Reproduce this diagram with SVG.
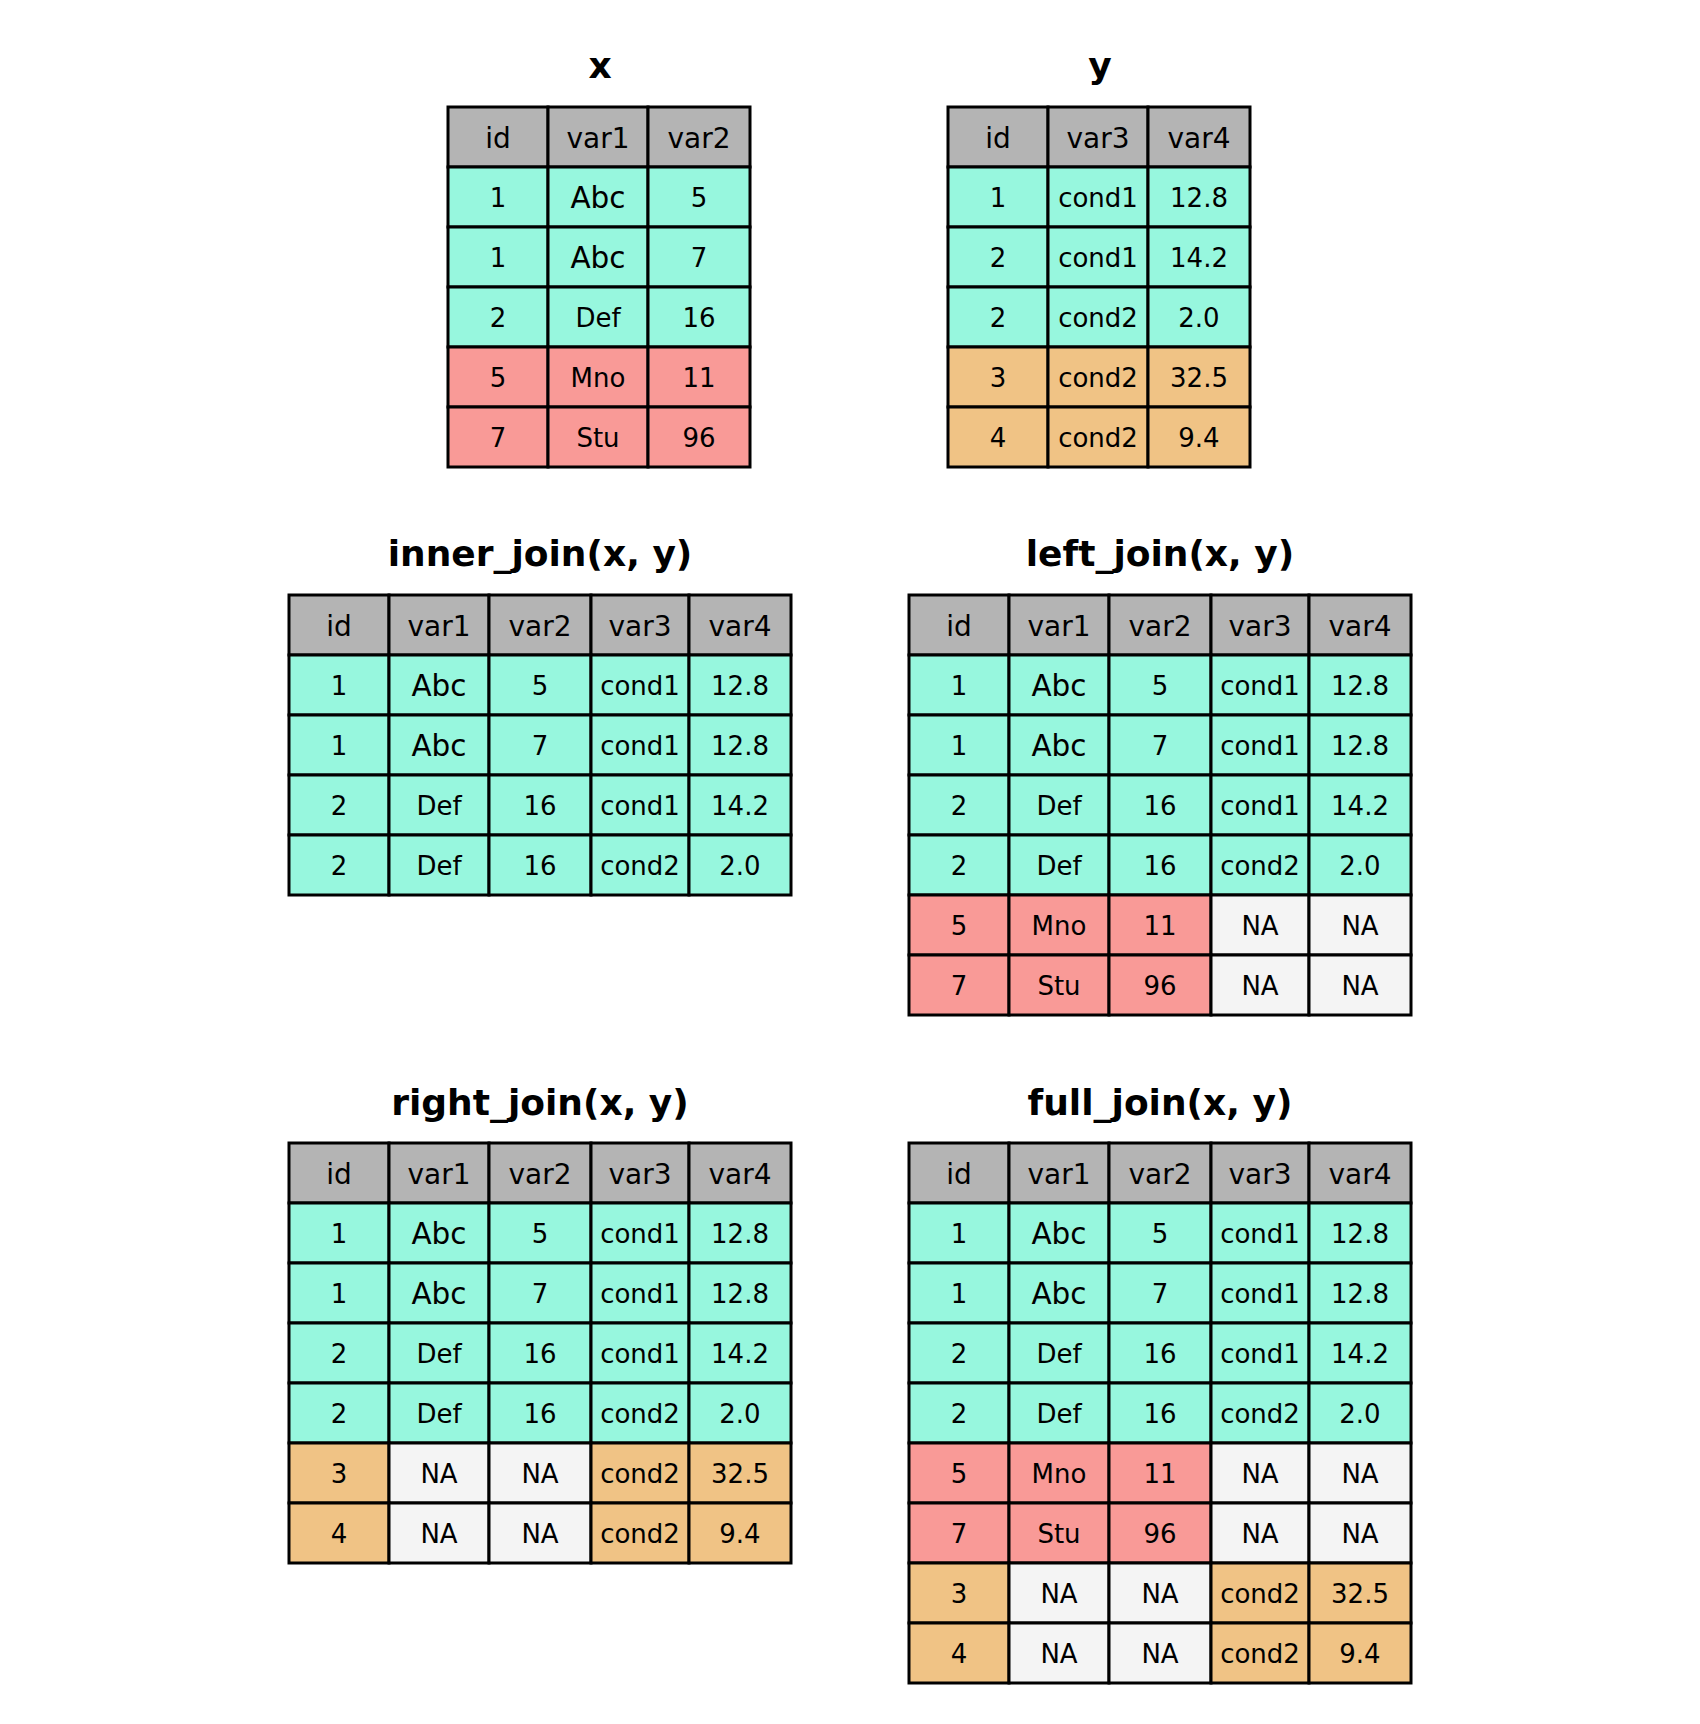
<svg xmlns="http://www.w3.org/2000/svg" width="1700" height="1724" viewBox="0 0 1700 1724">
<style>
rect{stroke:#000;stroke-width:3}
.h{fill:#b4b4b4}.t{fill:#97f7de}.r{fill:#f99a97}.o{fill:#f0c385}.n{fill:#f4f4f4}
text{font-family:"DejaVu Sans","Liberation Sans",sans-serif;text-anchor:middle;fill:#000}
.hd{font-size:28px}.c{font-size:26px}.ab{font-size:29.5px}
.ti{font-size:36px;font-weight:bold}
</style>
<rect x="0" y="0" width="1700" height="1724" fill="#fff" style="stroke:none"/>
<g id="connectors"/>

<g id="table-x">
<text class="ti" x="600" y="78">x</text>
<rect class="h" x="448" y="107" width="100" height="60"/><rect class="h" x="548" y="107" width="100" height="60"/><rect class="h" x="648" y="107" width="102" height="60"/>
<rect class="t" x="448" y="167" width="100" height="60"/><rect class="t" x="548" y="167" width="100" height="60"/><rect class="t" x="648" y="167" width="102" height="60"/>
<rect class="t" x="448" y="227" width="100" height="60"/><rect class="t" x="548" y="227" width="100" height="60"/><rect class="t" x="648" y="227" width="102" height="60"/>
<rect class="t" x="448" y="287" width="100" height="60"/><rect class="t" x="548" y="287" width="100" height="60"/><rect class="t" x="648" y="287" width="102" height="60"/>
<rect class="r" x="448" y="347" width="100" height="60"/><rect class="r" x="548" y="347" width="100" height="60"/><rect class="r" x="648" y="347" width="102" height="60"/>
<rect class="r" x="448" y="407" width="100" height="60"/><rect class="r" x="548" y="407" width="100" height="60"/><rect class="r" x="648" y="407" width="102" height="60"/>
<text class="hd" x="498" y="148">id</text><text class="hd" x="598" y="148">var1</text><text class="hd" x="699" y="148">var2</text>
<text class="c" x="498" y="207">1</text><text class="ab" x="598" y="208">Abc</text><text class="c" x="699" y="207">5</text>
<text class="c" x="498" y="267">1</text><text class="ab" x="598" y="268">Abc</text><text class="c" x="699" y="267">7</text>
<text class="c" x="498" y="327">2</text><text class="c" x="598" y="327">Def</text><text class="c" x="699" y="327">16</text>
<text class="c" x="498" y="387">5</text><text class="c" x="598" y="387">Mno</text><text class="c" x="699" y="387">11</text>
<text class="c" x="498" y="447">7</text><text class="c" x="598" y="447">Stu</text><text class="c" x="699" y="447">96</text>
</g>

<g id="table-y">
<text class="ti" x="1100" y="78">y</text>
<rect class="h" x="948" y="107" width="100" height="60"/><rect class="h" x="1048" y="107" width="100" height="60"/><rect class="h" x="1148" y="107" width="102" height="60"/>
<rect class="t" x="948" y="167" width="100" height="60"/><rect class="t" x="1048" y="167" width="100" height="60"/><rect class="t" x="1148" y="167" width="102" height="60"/>
<rect class="t" x="948" y="227" width="100" height="60"/><rect class="t" x="1048" y="227" width="100" height="60"/><rect class="t" x="1148" y="227" width="102" height="60"/>
<rect class="t" x="948" y="287" width="100" height="60"/><rect class="t" x="1048" y="287" width="100" height="60"/><rect class="t" x="1148" y="287" width="102" height="60"/>
<rect class="o" x="948" y="347" width="100" height="60"/><rect class="o" x="1048" y="347" width="100" height="60"/><rect class="o" x="1148" y="347" width="102" height="60"/>
<rect class="o" x="948" y="407" width="100" height="60"/><rect class="o" x="1048" y="407" width="100" height="60"/><rect class="o" x="1148" y="407" width="102" height="60"/>
<text class="hd" x="998" y="148">id</text><text class="hd" x="1098" y="148">var3</text><text class="hd" x="1199" y="148">var4</text>
<text class="c" x="998" y="207">1</text><text class="c" x="1098" y="207">cond1</text><text class="c" x="1199" y="207">12.8</text>
<text class="c" x="998" y="267">2</text><text class="c" x="1098" y="267">cond1</text><text class="c" x="1199" y="267">14.2</text>
<text class="c" x="998" y="327">2</text><text class="c" x="1098" y="327">cond2</text><text class="c" x="1199" y="327">2.0</text>
<text class="c" x="998" y="387">3</text><text class="c" x="1098" y="387">cond2</text><text class="c" x="1199" y="387">32.5</text>
<text class="c" x="998" y="447">4</text><text class="c" x="1098" y="447">cond2</text><text class="c" x="1199" y="447">9.4</text>
</g>

<g id="inner-join">
<text class="ti" x="540" y="566">inner_join(x, y)</text>
<rect class="h" x="289" y="595" width="100" height="60"/><rect class="h" x="389" y="595" width="100" height="60"/><rect class="h" x="489" y="595" width="102" height="60"/><rect class="h" x="591" y="595" width="98" height="60"/><rect class="h" x="689" y="595" width="102" height="60"/>
<rect class="t" x="289" y="655" width="100" height="60"/><rect class="t" x="389" y="655" width="100" height="60"/><rect class="t" x="489" y="655" width="102" height="60"/><rect class="t" x="591" y="655" width="98" height="60"/><rect class="t" x="689" y="655" width="102" height="60"/>
<rect class="t" x="289" y="715" width="100" height="60"/><rect class="t" x="389" y="715" width="100" height="60"/><rect class="t" x="489" y="715" width="102" height="60"/><rect class="t" x="591" y="715" width="98" height="60"/><rect class="t" x="689" y="715" width="102" height="60"/>
<rect class="t" x="289" y="775" width="100" height="60"/><rect class="t" x="389" y="775" width="100" height="60"/><rect class="t" x="489" y="775" width="102" height="60"/><rect class="t" x="591" y="775" width="98" height="60"/><rect class="t" x="689" y="775" width="102" height="60"/>
<rect class="t" x="289" y="835" width="100" height="60"/><rect class="t" x="389" y="835" width="100" height="60"/><rect class="t" x="489" y="835" width="102" height="60"/><rect class="t" x="591" y="835" width="98" height="60"/><rect class="t" x="689" y="835" width="102" height="60"/>
<text class="hd" x="339" y="636">id</text><text class="hd" x="439" y="636">var1</text><text class="hd" x="540" y="636">var2</text><text class="hd" x="640" y="636">var3</text><text class="hd" x="740" y="636">var4</text>
<text class="c" x="339" y="695">1</text><text class="ab" x="439" y="696">Abc</text><text class="c" x="540" y="695">5</text><text class="c" x="640" y="695">cond1</text><text class="c" x="740" y="695">12.8</text>
<text class="c" x="339" y="755">1</text><text class="ab" x="439" y="756">Abc</text><text class="c" x="540" y="755">7</text><text class="c" x="640" y="755">cond1</text><text class="c" x="740" y="755">12.8</text>
<text class="c" x="339" y="815">2</text><text class="c" x="439" y="815">Def</text><text class="c" x="540" y="815">16</text><text class="c" x="640" y="815">cond1</text><text class="c" x="740" y="815">14.2</text>
<text class="c" x="339" y="875">2</text><text class="c" x="439" y="875">Def</text><text class="c" x="540" y="875">16</text><text class="c" x="640" y="875">cond2</text><text class="c" x="740" y="875">2.0</text>
</g>

<g id="left-join">
<text class="ti" x="1160" y="566">left_join(x, y)</text>
<rect class="h" x="909" y="595" width="100" height="60"/><rect class="h" x="1009" y="595" width="100" height="60"/><rect class="h" x="1109" y="595" width="102" height="60"/><rect class="h" x="1211" y="595" width="98" height="60"/><rect class="h" x="1309" y="595" width="102" height="60"/>
<rect class="t" x="909" y="655" width="100" height="60"/><rect class="t" x="1009" y="655" width="100" height="60"/><rect class="t" x="1109" y="655" width="102" height="60"/><rect class="t" x="1211" y="655" width="98" height="60"/><rect class="t" x="1309" y="655" width="102" height="60"/>
<rect class="t" x="909" y="715" width="100" height="60"/><rect class="t" x="1009" y="715" width="100" height="60"/><rect class="t" x="1109" y="715" width="102" height="60"/><rect class="t" x="1211" y="715" width="98" height="60"/><rect class="t" x="1309" y="715" width="102" height="60"/>
<rect class="t" x="909" y="775" width="100" height="60"/><rect class="t" x="1009" y="775" width="100" height="60"/><rect class="t" x="1109" y="775" width="102" height="60"/><rect class="t" x="1211" y="775" width="98" height="60"/><rect class="t" x="1309" y="775" width="102" height="60"/>
<rect class="t" x="909" y="835" width="100" height="60"/><rect class="t" x="1009" y="835" width="100" height="60"/><rect class="t" x="1109" y="835" width="102" height="60"/><rect class="t" x="1211" y="835" width="98" height="60"/><rect class="t" x="1309" y="835" width="102" height="60"/>
<rect class="r" x="909" y="895" width="100" height="60"/><rect class="r" x="1009" y="895" width="100" height="60"/><rect class="r" x="1109" y="895" width="102" height="60"/><rect class="n" x="1211" y="895" width="98" height="60"/><rect class="n" x="1309" y="895" width="102" height="60"/>
<rect class="r" x="909" y="955" width="100" height="60"/><rect class="r" x="1009" y="955" width="100" height="60"/><rect class="r" x="1109" y="955" width="102" height="60"/><rect class="n" x="1211" y="955" width="98" height="60"/><rect class="n" x="1309" y="955" width="102" height="60"/>
<text class="hd" x="959" y="636">id</text><text class="hd" x="1059" y="636">var1</text><text class="hd" x="1160" y="636">var2</text><text class="hd" x="1260" y="636">var3</text><text class="hd" x="1360" y="636">var4</text>
<text class="c" x="959" y="695">1</text><text class="ab" x="1059" y="696">Abc</text><text class="c" x="1160" y="695">5</text><text class="c" x="1260" y="695">cond1</text><text class="c" x="1360" y="695">12.8</text>
<text class="c" x="959" y="755">1</text><text class="ab" x="1059" y="756">Abc</text><text class="c" x="1160" y="755">7</text><text class="c" x="1260" y="755">cond1</text><text class="c" x="1360" y="755">12.8</text>
<text class="c" x="959" y="815">2</text><text class="c" x="1059" y="815">Def</text><text class="c" x="1160" y="815">16</text><text class="c" x="1260" y="815">cond1</text><text class="c" x="1360" y="815">14.2</text>
<text class="c" x="959" y="875">2</text><text class="c" x="1059" y="875">Def</text><text class="c" x="1160" y="875">16</text><text class="c" x="1260" y="875">cond2</text><text class="c" x="1360" y="875">2.0</text>
<text class="c" x="959" y="935">5</text><text class="c" x="1059" y="935">Mno</text><text class="c" x="1160" y="935">11</text><text class="c" x="1260" y="935">NA</text><text class="c" x="1360" y="935">NA</text>
<text class="c" x="959" y="995">7</text><text class="c" x="1059" y="995">Stu</text><text class="c" x="1160" y="995">96</text><text class="c" x="1260" y="995">NA</text><text class="c" x="1360" y="995">NA</text>
</g>

<g id="right-join">
<text class="ti" x="540" y="1115">right_join(x, y)</text>
<rect class="h" x="289" y="1143" width="100" height="60"/><rect class="h" x="389" y="1143" width="100" height="60"/><rect class="h" x="489" y="1143" width="102" height="60"/><rect class="h" x="591" y="1143" width="98" height="60"/><rect class="h" x="689" y="1143" width="102" height="60"/>
<rect class="t" x="289" y="1203" width="100" height="60"/><rect class="t" x="389" y="1203" width="100" height="60"/><rect class="t" x="489" y="1203" width="102" height="60"/><rect class="t" x="591" y="1203" width="98" height="60"/><rect class="t" x="689" y="1203" width="102" height="60"/>
<rect class="t" x="289" y="1263" width="100" height="60"/><rect class="t" x="389" y="1263" width="100" height="60"/><rect class="t" x="489" y="1263" width="102" height="60"/><rect class="t" x="591" y="1263" width="98" height="60"/><rect class="t" x="689" y="1263" width="102" height="60"/>
<rect class="t" x="289" y="1323" width="100" height="60"/><rect class="t" x="389" y="1323" width="100" height="60"/><rect class="t" x="489" y="1323" width="102" height="60"/><rect class="t" x="591" y="1323" width="98" height="60"/><rect class="t" x="689" y="1323" width="102" height="60"/>
<rect class="t" x="289" y="1383" width="100" height="60"/><rect class="t" x="389" y="1383" width="100" height="60"/><rect class="t" x="489" y="1383" width="102" height="60"/><rect class="t" x="591" y="1383" width="98" height="60"/><rect class="t" x="689" y="1383" width="102" height="60"/>
<rect class="o" x="289" y="1443" width="100" height="60"/><rect class="n" x="389" y="1443" width="100" height="60"/><rect class="n" x="489" y="1443" width="102" height="60"/><rect class="o" x="591" y="1443" width="98" height="60"/><rect class="o" x="689" y="1443" width="102" height="60"/>
<rect class="o" x="289" y="1503" width="100" height="60"/><rect class="n" x="389" y="1503" width="100" height="60"/><rect class="n" x="489" y="1503" width="102" height="60"/><rect class="o" x="591" y="1503" width="98" height="60"/><rect class="o" x="689" y="1503" width="102" height="60"/>
<text class="hd" x="339" y="1184">id</text><text class="hd" x="439" y="1184">var1</text><text class="hd" x="540" y="1184">var2</text><text class="hd" x="640" y="1184">var3</text><text class="hd" x="740" y="1184">var4</text>
<text class="c" x="339" y="1243">1</text><text class="ab" x="439" y="1244">Abc</text><text class="c" x="540" y="1243">5</text><text class="c" x="640" y="1243">cond1</text><text class="c" x="740" y="1243">12.8</text>
<text class="c" x="339" y="1303">1</text><text class="ab" x="439" y="1304">Abc</text><text class="c" x="540" y="1303">7</text><text class="c" x="640" y="1303">cond1</text><text class="c" x="740" y="1303">12.8</text>
<text class="c" x="339" y="1363">2</text><text class="c" x="439" y="1363">Def</text><text class="c" x="540" y="1363">16</text><text class="c" x="640" y="1363">cond1</text><text class="c" x="740" y="1363">14.2</text>
<text class="c" x="339" y="1423">2</text><text class="c" x="439" y="1423">Def</text><text class="c" x="540" y="1423">16</text><text class="c" x="640" y="1423">cond2</text><text class="c" x="740" y="1423">2.0</text>
<text class="c" x="339" y="1483">3</text><text class="c" x="439" y="1483">NA</text><text class="c" x="540" y="1483">NA</text><text class="c" x="640" y="1483">cond2</text><text class="c" x="740" y="1483">32.5</text>
<text class="c" x="339" y="1543">4</text><text class="c" x="439" y="1543">NA</text><text class="c" x="540" y="1543">NA</text><text class="c" x="640" y="1543">cond2</text><text class="c" x="740" y="1543">9.4</text>
</g>

<g id="full-join">
<text class="ti" x="1160" y="1115">full_join(x, y)</text>
<rect class="h" x="909" y="1143" width="100" height="60"/><rect class="h" x="1009" y="1143" width="100" height="60"/><rect class="h" x="1109" y="1143" width="102" height="60"/><rect class="h" x="1211" y="1143" width="98" height="60"/><rect class="h" x="1309" y="1143" width="102" height="60"/>
<rect class="t" x="909" y="1203" width="100" height="60"/><rect class="t" x="1009" y="1203" width="100" height="60"/><rect class="t" x="1109" y="1203" width="102" height="60"/><rect class="t" x="1211" y="1203" width="98" height="60"/><rect class="t" x="1309" y="1203" width="102" height="60"/>
<rect class="t" x="909" y="1263" width="100" height="60"/><rect class="t" x="1009" y="1263" width="100" height="60"/><rect class="t" x="1109" y="1263" width="102" height="60"/><rect class="t" x="1211" y="1263" width="98" height="60"/><rect class="t" x="1309" y="1263" width="102" height="60"/>
<rect class="t" x="909" y="1323" width="100" height="60"/><rect class="t" x="1009" y="1323" width="100" height="60"/><rect class="t" x="1109" y="1323" width="102" height="60"/><rect class="t" x="1211" y="1323" width="98" height="60"/><rect class="t" x="1309" y="1323" width="102" height="60"/>
<rect class="t" x="909" y="1383" width="100" height="60"/><rect class="t" x="1009" y="1383" width="100" height="60"/><rect class="t" x="1109" y="1383" width="102" height="60"/><rect class="t" x="1211" y="1383" width="98" height="60"/><rect class="t" x="1309" y="1383" width="102" height="60"/>
<rect class="r" x="909" y="1443" width="100" height="60"/><rect class="r" x="1009" y="1443" width="100" height="60"/><rect class="r" x="1109" y="1443" width="102" height="60"/><rect class="n" x="1211" y="1443" width="98" height="60"/><rect class="n" x="1309" y="1443" width="102" height="60"/>
<rect class="r" x="909" y="1503" width="100" height="60"/><rect class="r" x="1009" y="1503" width="100" height="60"/><rect class="r" x="1109" y="1503" width="102" height="60"/><rect class="n" x="1211" y="1503" width="98" height="60"/><rect class="n" x="1309" y="1503" width="102" height="60"/>
<rect class="o" x="909" y="1563" width="100" height="60"/><rect class="n" x="1009" y="1563" width="100" height="60"/><rect class="n" x="1109" y="1563" width="102" height="60"/><rect class="o" x="1211" y="1563" width="98" height="60"/><rect class="o" x="1309" y="1563" width="102" height="60"/>
<rect class="o" x="909" y="1623" width="100" height="60"/><rect class="n" x="1009" y="1623" width="100" height="60"/><rect class="n" x="1109" y="1623" width="102" height="60"/><rect class="o" x="1211" y="1623" width="98" height="60"/><rect class="o" x="1309" y="1623" width="102" height="60"/>
<text class="hd" x="959" y="1184">id</text><text class="hd" x="1059" y="1184">var1</text><text class="hd" x="1160" y="1184">var2</text><text class="hd" x="1260" y="1184">var3</text><text class="hd" x="1360" y="1184">var4</text>
<text class="c" x="959" y="1243">1</text><text class="ab" x="1059" y="1244">Abc</text><text class="c" x="1160" y="1243">5</text><text class="c" x="1260" y="1243">cond1</text><text class="c" x="1360" y="1243">12.8</text>
<text class="c" x="959" y="1303">1</text><text class="ab" x="1059" y="1304">Abc</text><text class="c" x="1160" y="1303">7</text><text class="c" x="1260" y="1303">cond1</text><text class="c" x="1360" y="1303">12.8</text>
<text class="c" x="959" y="1363">2</text><text class="c" x="1059" y="1363">Def</text><text class="c" x="1160" y="1363">16</text><text class="c" x="1260" y="1363">cond1</text><text class="c" x="1360" y="1363">14.2</text>
<text class="c" x="959" y="1423">2</text><text class="c" x="1059" y="1423">Def</text><text class="c" x="1160" y="1423">16</text><text class="c" x="1260" y="1423">cond2</text><text class="c" x="1360" y="1423">2.0</text>
<text class="c" x="959" y="1483">5</text><text class="c" x="1059" y="1483">Mno</text><text class="c" x="1160" y="1483">11</text><text class="c" x="1260" y="1483">NA</text><text class="c" x="1360" y="1483">NA</text>
<text class="c" x="959" y="1543">7</text><text class="c" x="1059" y="1543">Stu</text><text class="c" x="1160" y="1543">96</text><text class="c" x="1260" y="1543">NA</text><text class="c" x="1360" y="1543">NA</text>
<text class="c" x="959" y="1603">3</text><text class="c" x="1059" y="1603">NA</text><text class="c" x="1160" y="1603">NA</text><text class="c" x="1260" y="1603">cond2</text><text class="c" x="1360" y="1603">32.5</text>
<text class="c" x="959" y="1663">4</text><text class="c" x="1059" y="1663">NA</text><text class="c" x="1160" y="1663">NA</text><text class="c" x="1260" y="1663">cond2</text><text class="c" x="1360" y="1663">9.4</text>
</g>
</svg>
